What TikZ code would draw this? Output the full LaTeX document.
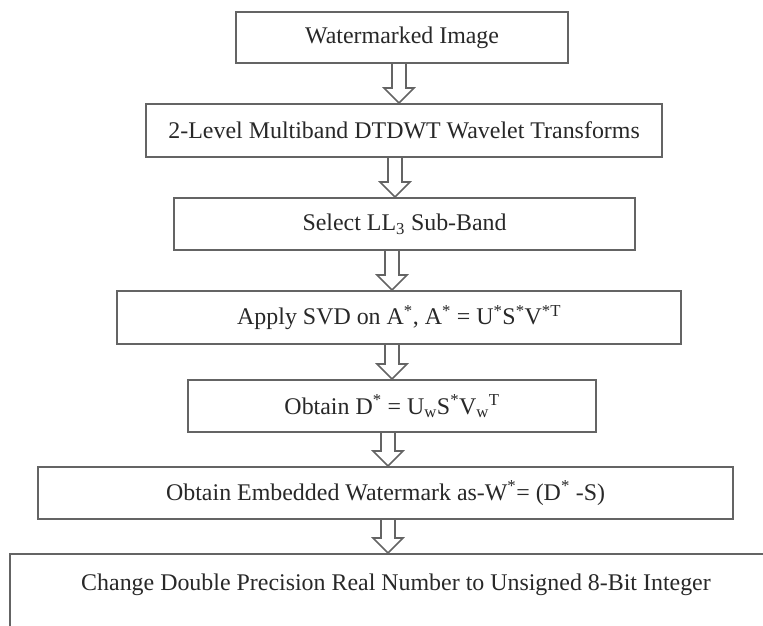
\documentclass[tikz,border=0pt]{standalone}
\usepackage{fontspec}
\setmainfont{Liberation Serif}
\usetikzlibrary{calc}
\definecolor{linegray}{RGB}{100,100,100}
\definecolor{textgray}{RGB}{40,40,40}
\tikzset{
  stepbox/.style={draw=linegray, line width=2.2bp, text=textgray,
    font=\fontsize{24}{28}\selectfont, inner sep=0pt, anchor=north west},
  steptext/.style={text=textgray, font=\fontsize{24}{28}\selectfont, inner sep=0pt},
  hollowarrow/.style={draw=linegray, line width=1.6bp, fill=white, line join=miter}
}
% #1 = x position (px), #2 = upper node, #3 = lower node
\newcommand\blockarrow[3]{%
  \draw[hollowarrow] let \p1=(#2.south), \p2=(#3.north) in
    (#1bp-7bp,\y1) -- (#1bp-7bp,\y2+15bp) -- (#1bp-15bp,\y2+15bp) --
    (#1bp,\y2) -- (#1bp+15bp,\y2+15bp) -- (#1bp+7bp,\y2+15bp) -- (#1bp+7bp,\y1);
}
\begin{document}
\begin{tikzpicture}[x=1bp,y=-1bp]
\useasboundingbox (0,0) rectangle (763,626);
\clip (0,0) rectangle (763,626);
\node[stepbox, minimum width=332bp, minimum height=51bp] (b1) at (235,11) {Watermarked Image};
\node[stepbox, minimum width=516bp, minimum height=53bp] (b2) at (145,103) {2-Level Multiband DTDWT Wavelet Transforms};
\node[stepbox, minimum width=461bp, minimum height=52bp] (b3) at (173,197) {Select LL\textsubscript{3} Sub-Band};
\node[stepbox, minimum width=564bp, minimum height=53bp] (b4) at (116,290) {Apply SVD on A\textsuperscript{*}, A\textsuperscript{*} = U\textsuperscript{*}S\textsuperscript{*}V\textsuperscript{*T}};
\node[stepbox, minimum width=408bp, minimum height=52bp] (b5) at (187,379) {Obtain D\textsuperscript{*} = U\textsubscript{w}S\textsuperscript{*}V\textsubscript{w}\textsuperscript{T}};
\node[stepbox, minimum width=695bp, minimum height=52bp] (b6) at (37,466) {Obtain Embedded Watermark as-W\textsuperscript{*}= (D\textsuperscript{*} -S)};
\node[stepbox, minimum width=800bp, minimum height=120bp] (b7) at (9,553) {};
\node[steptext] (t7) at (396,585) {Change Double Precision Real Number to Unsigned 8-Bit Integer};
\blockarrow{399}{b1}{b2}
\blockarrow{395}{b2}{b3}
\blockarrow{392}{b3}{b4}
\blockarrow{392}{b4}{b5}
\blockarrow{388}{b5}{b6}
\blockarrow{388}{b6}{b7}
\end{tikzpicture}
\end{document}
